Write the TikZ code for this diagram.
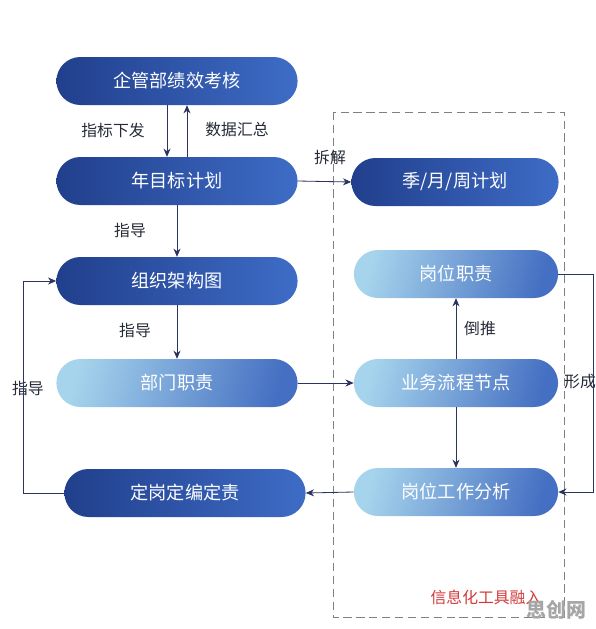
\documentclass[tikz,border=0pt]{standalone}
\usepackage{fontspec}
\setmainfont{Noto Sans CJK SC}
\usetikzlibrary{shapes.misc,arrows.meta}
\definecolor{navyL}{HTML}{213F8C}
\definecolor{navyR}{HTML}{3E6CC6}
\definecolor{skyL}{HTML}{A6D4EC}
\definecolor{skyR}{HTML}{456FC2}
\definecolor{linec}{HTML}{2B335E}
\definecolor{lblc}{HTML}{262B38}
\definecolor{redc}{HTML}{D23A3A}
\begin{document}
\begin{tikzpicture}[
  darkbox/.style={rounded rectangle, minimum width=7.47cm, minimum height=1.44cm,
    left color=navyL, right color=navyR, text=white, font=\fontsize{15.5}{18}\selectfont},
  lightbox/.style={rounded rectangle, minimum width=6.36cm, minimum height=1.44cm,
    left color=skyL, right color=skyR, shading angle=75, text=white, font=\fontsize{15.5}{18}\selectfont},
  lbl/.style={text=lblc, font=\fontsize{13.5}{16}\selectfont},
  conn/.style={line width=0.7pt, linec, -{Stealth[length=7pt,width=6pt]}}]
 \useasboundingbox[fill=white] (0, 0) rectangle (17.88, -18.87);
 % dashed frame
 \draw[gray, dashed, line width=0.7pt, dash pattern=on 7pt off 4pt] (9.99, -3.36) rectangle (16.92, -18.51);

 \node[darkbox] at (5.31, -2.43)  (kaohe)    {企管部绩效考核};
 \node[darkbox] at (5.31, -5.43)  (nianplan) {年目标计划};
 \node[darkbox, minimum width=6.45cm] at (13.65, -5.46)  (subplan)  {季/月/周计划};
 \node[darkbox] at (5.31, -8.43)  (zuzhi)    {组织架构图};
 \node[lightbox, minimum width=7.47cm] at (5.31, -11.49)  (bumen)    {部门职责};
 \node[lightbox] at (13.68, -8.22)  (gangwei)  {岗位职责};
 \node[lightbox] at (13.68, -11.49)  (liucheng) {业务流程节点};
 \node[lightbox] at (13.68, -14.76)  (fenxi)    {岗位工作分析};
 \node[darkbox] at (5.55, -14.79)  (dinggang) {定岗定编定责};

 \coordinate (loopR) at (17.79, 0);
 \coordinate (loopL) at (0.69, 0);

 \node[lbl] at (3.39, -3.9)  (l1) {指标下发};
 \node[lbl] at (7.11, -3.9)  (l2) {数据汇总};
 \node[lbl] at (9.9, -4.74)  (l3) {拆解};
 \node[lbl] at (3.9, -6.9)  (l4) {指导};
 \node[lbl] at (4.05, -9.9)  (l5) {指导};
 \node[lbl] at (14.4, -9.84)  (l6) {倒推};
 \node[lbl] at (17.4, -11.46)  (l7) {形成};
 \node[lbl] at (0.84, -11.64)  (l8) {指导};
 \node[text=redc, font=\fontsize{13.5}{16}\selectfont] at (14.58, -17.91)  (tool) {信息化工具融入};
 \node[text=gray!70, font=\bfseries\fontsize{17}{20}\selectfont] at (16.7, -18.3)  (mark) {思创网};

 \draw [conn]  ([xshift=-0.3cm]kaohe.south)--([xshift=-0.3cm]nianplan.north);
 \draw [conn]  ([xshift=0.3cm]nianplan.north)--([xshift=0.3cm]kaohe.south);
 \draw [conn]  (nianplan.east)--(subplan.west);
 \draw [conn]  (nianplan.south)--(zuzhi.north);
 \draw [conn]  (zuzhi.south)--(bumen.north);
 \draw [conn]  (bumen.east)--(liucheng.west);
 \draw [conn]  (liucheng.north)--(gangwei.south);
 \draw [conn]  (liucheng.south)--(fenxi.north);
 \draw [conn]  (gangwei.east)--(gangwei.east -| loopR)|-(fenxi.east);
 \draw [conn]  (fenxi.west)--(dinggang.east);
 \draw [conn]  (dinggang.west)--(dinggang.west -| loopL)|-(zuzhi.west);
\end{tikzpicture}
\end{document}
